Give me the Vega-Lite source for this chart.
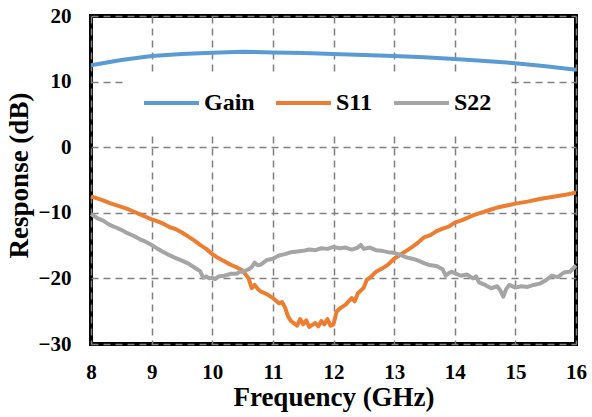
{
  "$schema": "https://vega.github.io/schema/vega-lite/v6.json",
  "width": 485,
  "height": 328,
  "autosize": {"type": "none"},
  "padding": {"left": 91, "top": 16, "right": 16, "bottom": 73},
  "background": "white",
  "datasets": {
    "gain": [
      {"f": 8.0, "v": 12.5}, {"f": 8.5, "v": 13.3}, {"f": 9.0, "v": 13.9}, {"f": 9.5, "v": 14.2},
      {"f": 10.0, "v": 14.4}, {"f": 10.5, "v": 14.55}, {"f": 11.0, "v": 14.45}, {"f": 11.5, "v": 14.35},
      {"f": 12.0, "v": 14.2}, {"f": 12.5, "v": 14.05}, {"f": 13.0, "v": 13.9}, {"f": 13.5, "v": 13.7},
      {"f": 14.0, "v": 13.45}, {"f": 14.5, "v": 13.15}, {"f": 15.0, "v": 12.8}, {"f": 15.5, "v": 12.35},
      {"f": 16.0, "v": 11.8}
    ],
    "s11": [
      {"f": 8.0, "v": -7.5}, {"f": 8.1, "v": -7.8}, {"f": 8.2, "v": -8.1}, {"f": 8.3, "v": -8.5},
      {"f": 8.4, "v": -8.8}, {"f": 8.5, "v": -9.1}, {"f": 8.6, "v": -9.4}, {"f": 8.7, "v": -9.8},
      {"f": 8.8, "v": -10.2}, {"f": 8.9, "v": -10.6}, {"f": 9.0, "v": -11.0}, {"f": 9.1, "v": -11.3},
      {"f": 9.2, "v": -11.7}, {"f": 9.3, "v": -12.2}, {"f": 9.4, "v": -12.5}, {"f": 9.5, "v": -13.0},
      {"f": 9.6, "v": -13.6}, {"f": 9.7, "v": -14.2}, {"f": 9.8, "v": -14.9}, {"f": 9.9, "v": -15.5},
      {"f": 10.0, "v": -16.3}, {"f": 10.1, "v": -16.9}, {"f": 10.2, "v": -17.4}, {"f": 10.3, "v": -17.9},
      {"f": 10.4, "v": -18.3}, {"f": 10.5, "v": -18.8}, {"f": 10.6, "v": -20.0}, {"f": 10.65, "v": -21.5},
      {"f": 10.7, "v": -21.0}, {"f": 10.75, "v": -21.6}, {"f": 10.8, "v": -22.0}, {"f": 10.9, "v": -22.4},
      {"f": 11.0, "v": -23.0}, {"f": 11.1, "v": -23.8}, {"f": 11.15, "v": -23.6}, {"f": 11.2, "v": -24.4},
      {"f": 11.25, "v": -25.8}, {"f": 11.3, "v": -26.5}, {"f": 11.4, "v": -27.2}, {"f": 11.45, "v": -26.2},
      {"f": 11.5, "v": -27.0}, {"f": 11.55, "v": -26.4}, {"f": 11.6, "v": -27.4}, {"f": 11.7, "v": -26.8},
      {"f": 11.75, "v": -27.3}, {"f": 11.8, "v": -26.5}, {"f": 11.85, "v": -27.0}, {"f": 11.9, "v": -26.2},
      {"f": 11.95, "v": -27.2}, {"f": 12.0, "v": -27.0}, {"f": 12.05, "v": -25.1}, {"f": 12.1, "v": -24.6},
      {"f": 12.2, "v": -24.0}, {"f": 12.3, "v": -23.0}, {"f": 12.35, "v": -23.5}, {"f": 12.4, "v": -22.3},
      {"f": 12.5, "v": -21.4}, {"f": 12.55, "v": -20.2}, {"f": 12.6, "v": -19.9}, {"f": 12.7, "v": -19.0},
      {"f": 12.8, "v": -18.5}, {"f": 12.9, "v": -17.9}, {"f": 13.0, "v": -17.0}, {"f": 13.1, "v": -16.4},
      {"f": 13.2, "v": -15.8}, {"f": 13.3, "v": -15.2}, {"f": 13.4, "v": -14.5}, {"f": 13.5, "v": -13.7},
      {"f": 13.6, "v": -13.4}, {"f": 13.7, "v": -12.8}, {"f": 13.8, "v": -12.4}, {"f": 13.9, "v": -12.1},
      {"f": 14.0, "v": -11.5}, {"f": 14.1, "v": -11.2}, {"f": 14.2, "v": -10.8}, {"f": 14.3, "v": -10.4},
      {"f": 14.4, "v": -10.1}, {"f": 14.5, "v": -9.8}, {"f": 14.6, "v": -9.5}, {"f": 14.7, "v": -9.2},
      {"f": 14.8, "v": -9.0}, {"f": 14.9, "v": -8.8}, {"f": 15.0, "v": -8.6}, {"f": 15.2, "v": -8.3},
      {"f": 15.4, "v": -7.9}, {"f": 15.6, "v": -7.6}, {"f": 15.8, "v": -7.3}, {"f": 16.0, "v": -6.9}
    ],
    "s22": [
      {"f": 8.0, "v": -10.2}, {"f": 8.1, "v": -10.8}, {"f": 8.2, "v": -11.2}, {"f": 8.3, "v": -11.8},
      {"f": 8.4, "v": -12.2}, {"f": 8.5, "v": -12.6}, {"f": 8.6, "v": -13.1}, {"f": 8.7, "v": -13.5},
      {"f": 8.8, "v": -14.0}, {"f": 8.9, "v": -14.4}, {"f": 9.0, "v": -14.9}, {"f": 9.1, "v": -15.5},
      {"f": 9.2, "v": -16.0}, {"f": 9.3, "v": -16.5}, {"f": 9.4, "v": -16.9}, {"f": 9.5, "v": -17.3},
      {"f": 9.6, "v": -17.7}, {"f": 9.7, "v": -18.3}, {"f": 9.75, "v": -18.6}, {"f": 9.8, "v": -18.9},
      {"f": 9.85, "v": -19.9}, {"f": 9.9, "v": -19.7}, {"f": 9.95, "v": -20.0}, {"f": 10.0, "v": -19.9},
      {"f": 10.05, "v": -20.1}, {"f": 10.1, "v": -19.7}, {"f": 10.2, "v": -19.6}, {"f": 10.3, "v": -19.3},
      {"f": 10.4, "v": -19.3}, {"f": 10.45, "v": -19.0}, {"f": 10.5, "v": -19.0}, {"f": 10.6, "v": -18.6},
      {"f": 10.65, "v": -18.3}, {"f": 10.7, "v": -17.6}, {"f": 10.75, "v": -18.0}, {"f": 10.8, "v": -17.9},
      {"f": 10.9, "v": -17.2}, {"f": 11.0, "v": -17.0}, {"f": 11.1, "v": -16.5}, {"f": 11.2, "v": -16.3},
      {"f": 11.3, "v": -16.0}, {"f": 11.4, "v": -15.9}, {"f": 11.5, "v": -15.8}, {"f": 11.6, "v": -15.6},
      {"f": 11.7, "v": -15.7}, {"f": 11.8, "v": -15.4}, {"f": 11.9, "v": -15.5}, {"f": 12.0, "v": -15.2},
      {"f": 12.1, "v": -15.4}, {"f": 12.2, "v": -15.3}, {"f": 12.3, "v": -15.6}, {"f": 12.4, "v": -15.3},
      {"f": 12.45, "v": -14.9}, {"f": 12.5, "v": -15.5}, {"f": 12.6, "v": -15.3}, {"f": 12.7, "v": -15.7},
      {"f": 12.8, "v": -15.8}, {"f": 12.9, "v": -16.0}, {"f": 13.0, "v": -16.1}, {"f": 13.1, "v": -16.4},
      {"f": 13.2, "v": -16.8}, {"f": 13.3, "v": -17.0}, {"f": 13.4, "v": -17.3}, {"f": 13.5, "v": -17.7},
      {"f": 13.6, "v": -18.0}, {"f": 13.7, "v": -18.1}, {"f": 13.8, "v": -18.6}, {"f": 13.85, "v": -19.6},
      {"f": 13.9, "v": -19.2}, {"f": 13.95, "v": -19.0}, {"f": 14.0, "v": -19.2}, {"f": 14.1, "v": -19.6},
      {"f": 14.2, "v": -19.4}, {"f": 14.3, "v": -20.0}, {"f": 14.35, "v": -19.7}, {"f": 14.4, "v": -20.6},
      {"f": 14.5, "v": -21.0}, {"f": 14.6, "v": -21.5}, {"f": 14.7, "v": -21.2}, {"f": 14.75, "v": -21.8},
      {"f": 14.8, "v": -22.8}, {"f": 14.85, "v": -21.6}, {"f": 14.9, "v": -21.0}, {"f": 15.0, "v": -21.4},
      {"f": 15.1, "v": -21.2}, {"f": 15.2, "v": -21.3}, {"f": 15.3, "v": -21.0}, {"f": 15.4, "v": -20.8},
      {"f": 15.5, "v": -20.3}, {"f": 15.6, "v": -19.6}, {"f": 15.7, "v": -19.8}, {"f": 15.8, "v": -19.1},
      {"f": 15.9, "v": -19.0}, {"f": 16.0, "v": -18.0}
    ]
  },
  "layer": [
    {
      "data": {"name": "gain"},
      "transform": [{"calculate": "'Gain'", "as": "series"}],
      "mark": {"type": "line", "strokeWidth": 4, "strokeJoin": "round"},
      "encoding": {
        "x": {"field": "f", "type": "quantitative"},
        "y": {"field": "v", "type": "quantitative"},
        "color": {"field": "series", "type": "nominal"}
      }
    },
    {
      "data": {"name": "s11"},
      "transform": [{"calculate": "'S11'", "as": "series"}],
      "mark": {"type": "line", "strokeWidth": 4, "strokeJoin": "round"},
      "encoding": {
        "x": {"field": "f", "type": "quantitative"},
        "y": {"field": "v", "type": "quantitative"},
        "color": {"field": "series", "type": "nominal"}
      }
    },
    {
      "data": {"name": "s22"},
      "transform": [{"calculate": "'S22'", "as": "series"}],
      "mark": {"type": "line", "strokeWidth": 4, "strokeJoin": "round"},
      "encoding": {
        "x": {"field": "f", "type": "quantitative"},
        "y": {"field": "v", "type": "quantitative"},
        "color": {"field": "series", "type": "nominal"}
      }
    }
  ],
  "encoding": {
    "x": {
      "field": "f", "type": "quantitative",
      "scale": {"domain": [8, 16], "nice": false, "zero": false},
      "axis": {"title": "Frequency (GHz)", "values": [8, 9, 10, 11, 12, 13, 14, 15, 16], "labelFlush": false, "labelPadding": 17, "titlePadding": 2}
    },
    "y": {
      "field": "v", "type": "quantitative",
      "scale": {"domain": [-30, 20], "nice": false, "zero": false},
      "axis": {"title": "Response (dB)", "values": [-30, -20, -10, 0, 10, 20], "labelPadding": 20, "titlePadding": 5, "titleY": 159}
    },
    "color": {
      "field": "series", "type": "nominal",
      "scale": {"domain": ["Gain", "S11", "S22"], "range": ["#5B9BD5", "#ED7D31", "#A5A5A5"]},
      "legend": {"title": null}
    }
  },
  "config": {
    "view": {"stroke": "black", "strokeWidth": 4},
    "axis": {
      "domain": false,
      "ticks": false,
      "tickSize": 0,
      "grid": true,
      "gridColor": "#808080",
      "gridDash": [7, 5],
      "gridWidth": 1.5,
      "labelFont": "Times New Roman, Liberation Serif, serif",
      "labelFontWeight": "bold",
      "labelFontSize": 21,
      "labelColor": "black",
      "titleFont": "Times New Roman, Liberation Serif, serif",
      "titleFontWeight": "bold",
      "titleFontSize": 27,
      "titleColor": "black"
    },
    "legend": {
      "orient": "none",
      "legendX": 34,
      "legendY": 58,
      "direction": "horizontal",
      "symbolType": "stroke",
      "symbolSize": 3025,
      "symbolStrokeWidth": 4,
      "clipHeight": 24,
      "labelFont": "Times New Roman, Liberation Serif, serif",
      "labelFontWeight": "bold",
      "labelFontSize": 24,
      "labelColor": "black",
      "labelOffset": 3,
      "columnPadding": 19,
      "padding": 17,
      "fillColor": "white",
      "strokeColor": null
    }
  }
}
